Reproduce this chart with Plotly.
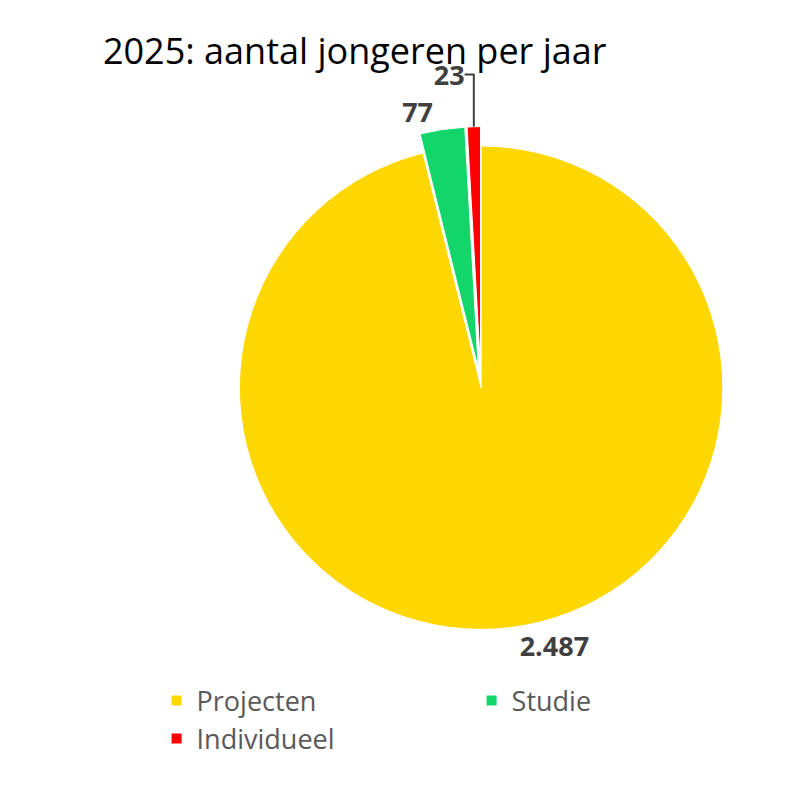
import plotly.graph_objects as go

categories = ["Projecten", "Studie", "Individueel"]
values = [2487, 77, 23]
value_labels = ["<b>2.487</b>", "<b>77</b>", "<b>23</b>"]
colors = ["#FFD700", "#12D66A", "#FF0000"]

fig = go.Figure(go.Pie(
    labels=categories,
    values=values,
    text=value_labels,
    textinfo="text",
    textposition="outside",
    textfont=dict(size=27, color="#404040", family="Open Sans"),
    marker=dict(colors=colors, line=dict(color="white", width=1)),
    sort=False,
    direction="clockwise",
    rotation=0,
    pull=[0, 0.08, 0.08],
    domain=dict(x=[0.25, 0.96], y=[0.19, 0.85]),
    hoverinfo="label+value",
))

fig.update_layout(
    width=791, height=791,
    paper_bgcolor="white",
    margin=dict(l=0, r=0, t=0, b=0),
    title=dict(text="2025: aantal jongeren per jaar", x=0.12, xanchor="left",
               y=0.945, yanchor="middle",
               font=dict(size=36, color="black", family="Open Sans")),
    legend=dict(orientation="h", x=0.19, y=0.155, xanchor="left", yanchor="top",
                entrywidth=270, entrywidthmode="pixels",
                font=dict(size=27, color="#595959", family="Open Sans"),
                itemsizing="constant"),
)

fig.write_html("out.html")
